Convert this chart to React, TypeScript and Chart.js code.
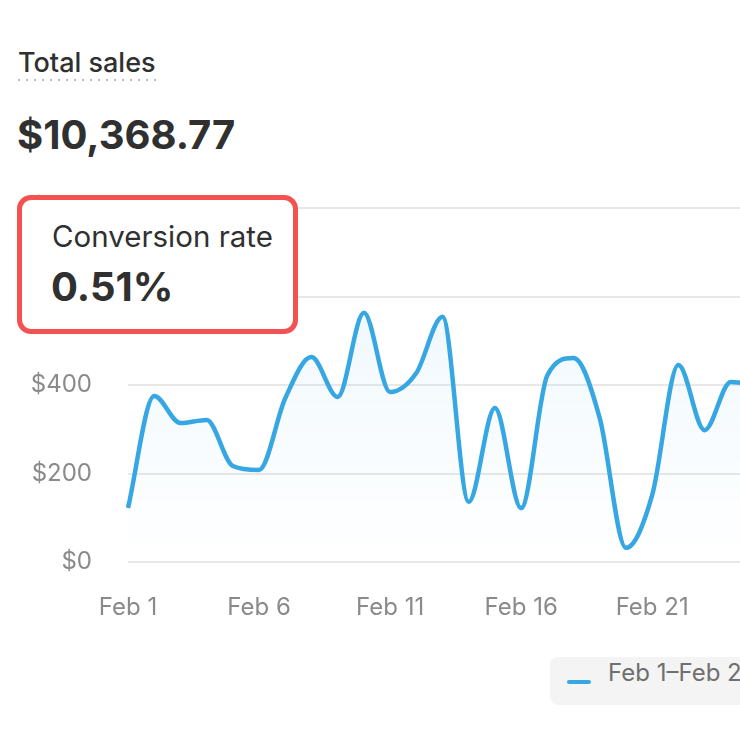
import React, { useEffect, useRef } from "react";
import { Chart, registerables } from "chart.js";

Chart.register(...registerables);

const categories = [
  "Feb 1", "Feb 2", "Feb 3", "Feb 4", "Feb 5", "Feb 6", "Feb 7", "Feb 8", "Feb 9", "Feb 10",
  "Feb 11", "Feb 12", "Feb 13", "Feb 14", "Feb 15", "Feb 16", "Feb 17", "Feb 18", "Feb 19", "Feb 20",
  "Feb 21", "Feb 22", "Feb 23", "Feb 24", "Feb 25",
];
const salesValues = [
  122, 375, 314, 321, 217, 208, 370, 463, 373, 563,
  384, 427, 554, 136, 348, 122, 422, 461, 325, 32,
  151, 445, 298, 407, 400,
];
const yTickValues = [0, 200, 400, 600, 800];
const xTickEvery = 5;
const legendLabel = "Feb 1–Feb 28, 2023";
const headerTitle = "Total sales";
const headerValue = "$10,368.77";
const calloutTitle = "Conversion rate";
const calloutValue = "0.51%";

const FONT = "Inter, 'Noto Sans', sans-serif";
const LINE = "#36a7e2";

export default function App() {
  const canvasRef = useRef<HTMLCanvasElement | null>(null);

  useEffect(() => {
    if (!canvasRef.current) return;
    const chart = new Chart(canvasRef.current, {
      type: "line",
      data: {
        labels: categories,
        datasets: [
          {
            label: legendLabel,
            data: salesValues,
            borderColor: LINE,
            borderWidth: 4.5,
            pointRadius: 0,
            cubicInterpolationMode: "monotone",
            fill: "origin",
            backgroundColor: (ctx: any) => {
              const area = ctx.chart.chartArea;
              if (!area) return "rgba(54,167,226,0.05)";
              const g = ctx.chart.ctx.createLinearGradient(0, area.top, 0, area.bottom);
              g.addColorStop(0, "rgba(54,167,226,0.10)");
              g.addColorStop(1, "rgba(54,167,226,0.0)");
              return g;
            },
          },
        ],
      },
      options: {
        responsive: false,
        animation: false,
        layout: { padding: { top: 18, right: 33, left: 0, bottom: 0 } },
        plugins: { legend: { display: false }, tooltip: { enabled: false } },
        scales: {
          x: {
            grid: { display: false },
            border: { display: false },
            afterFit: (scale: any) => {
              scale.height = 88;
            },
            ticks: {
              autoSkip: false,
              maxRotation: 0,
              padding: 23,
              color: "#8a8a8a",
              font: { family: FONT, size: 24 },
              callback: (_v: any, i: number) => (i % xTickEvery === 0 ? categories[i] : ""),
            },
          },
          y: {
            min: yTickValues[0],
            max: yTickValues[yTickValues.length - 1],
            afterFit: (scale: any) => {
              scale.width = 128;
              scale.paddingTop = 0;
              scale.paddingBottom = 0;
            },
            afterBuildTicks: (scale: any) => {
              scale.ticks = yTickValues.map((v) => ({ value: v }));
            },
            border: { display: false },
            grid: { color: "#e8e8e8", lineWidth: 2, drawTicks: false },
            ticks: {
              padding: 36,
              color: "#8a8a8a",
              font: { family: FONT, size: 24 },
              callback: (v: any) => "$" + v,
            },
          },
        },
      },
    });
    return () => chart.destroy();
  }, []);

  const text = (fs: number, baseline: number) => ({
    position: "absolute" as const,
    top: baseline - 0.864 * fs,
    fontSize: fs,
    lineHeight: `${fs}px`,
    whiteSpace: "nowrap" as const,
  });

  return (
    <div
      style={{
        position: "fixed",
        left: 0,
        top: 0,
        width: 740,
        height: 740,
        overflow: "hidden",
        background: "#ffffff",
        fontFamily: FONT,
        color: "#303030",
      }}
    >
      <div
        style={{
          ...text(27, 72),
          left: 18,
          fontWeight: 500,
          paddingBottom: 5,
          backgroundImage: "linear-gradient(to right, #b8b8b8 30%, rgba(255,255,255,0) 0%)",
          backgroundSize: "8px 2px",
          backgroundRepeat: "repeat-x",
          backgroundPosition: "left bottom",
        }}
      >
        {headerTitle}
      </div>
      <div style={{ ...text(40, 150), left: 17, fontWeight: 700 }}>{headerValue}</div>

      <div style={{ position: "absolute", left: 0, top: 190, zIndex: 0 }}>
        <canvas ref={canvasRef} width={790} height={460} style={{ display: "block" }} />
      </div>

      <div
        style={{
          position: "absolute",
          left: 17,
          top: 195,
          width: 281,
          height: 139,
          boxSizing: "border-box",
          border: "5px solid #f45252",
          borderRadius: 14,
          background: "#ffffff",
          zIndex: 2,
        }}
      />
      <div style={{ ...text(29.5, 247), left: 52, zIndex: 3 }}>{calloutTitle}</div>
      <div style={{ ...text(40, 302), left: 51, fontWeight: 700, zIndex: 3 }}>{calloutValue}</div>

      <div
        style={{
          position: "absolute",
          left: 550,
          top: 657,
          width: 280,
          height: 48,
          background: "#f4f4f4",
          borderRadius: 8,
          zIndex: 2,
        }}
      >
        <div
          style={{
            position: "absolute",
            left: 17,
            top: 23,
            width: 24,
            height: 4,
            borderRadius: 2,
            background: LINE,
          }}
        />
        <div style={{ ...text(24, 25), left: 58, color: "#6f6f6f" }}>{legendLabel}</div>
      </div>
    </div>
  );
}
